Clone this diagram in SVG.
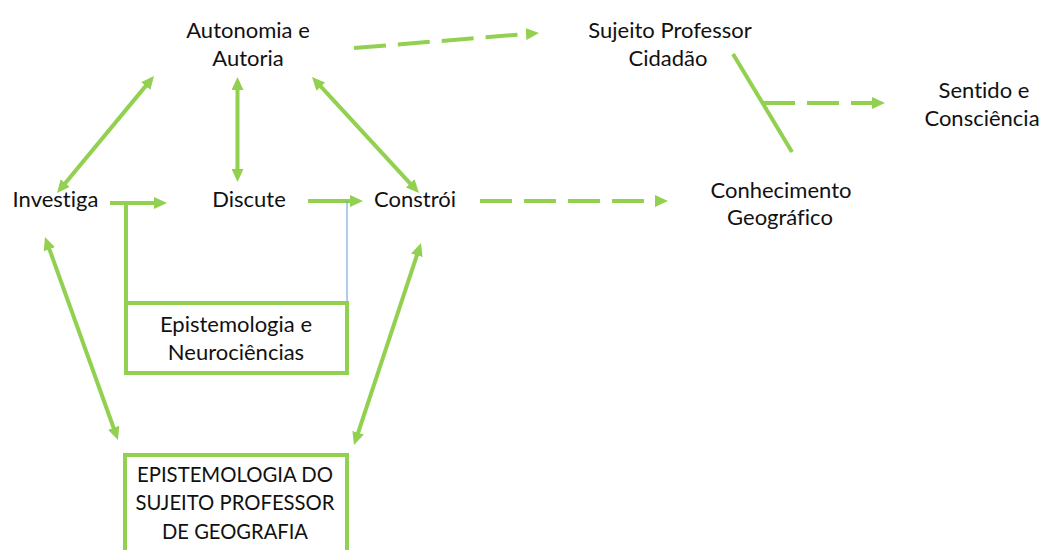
<svg xmlns="http://www.w3.org/2000/svg" width="1043" height="550" viewBox="0 0 1043 550">
<style>
text{font-family:Lato,"Liberation Sans",sans-serif;font-size:22px;fill:#111;text-anchor:middle;font-variant-ligatures:none;font-feature-settings:"liga" 0}
.c{stroke:#92D050;stroke-width:4;fill:none}
.d{stroke-dasharray:32 12}
.bx{stroke:#92D050;stroke-width:4;fill:#fff}
</style>
<defs>
<marker id="ah" markerUnits="userSpaceOnUse" markerWidth="13" markerHeight="12" refX="8" refY="6" orient="auto-start-reverse" viewBox="0 0 13 12">
<path d="M0,0 L13,6 L0,12 z" fill="#92D050"/>
</marker>
</defs>
<rect width="1043" height="550" fill="#fff"/>
<g id="connectors">
<line class="c" x1="60.2" y1="189.2" x2="150.8" y2="79.9" marker-start="url(#ah)" marker-end="url(#ah)"/>
<line class="c" x1="237.5" y1="82" x2="237.5" y2="177" marker-start="url(#ah)" marker-end="url(#ah)"/>
<line class="c" x1="315.4" y1="80.7" x2="415.6" y2="189.3" marker-start="url(#ah)" marker-end="url(#ah)"/>
<line class="c" x1="46.7" y1="241.7" x2="116.3" y2="435.3" marker-start="url(#ah)" marker-end="url(#ah)"/>
<line class="c" x1="419.4" y1="247.7" x2="355.6" y2="440.3" marker-start="url(#ah)" marker-end="url(#ah)"/>
<line class="c" x1="110" y1="203" x2="162" y2="203" marker-end="url(#ah)"/>
<line class="c" x1="126" y1="203" x2="126" y2="303"/>
<line class="c" x1="308" y1="201" x2="358" y2="201" marker-end="url(#ah)"/>
<line x1="347" y1="201" x2="347" y2="303" stroke="#5B9BD5" stroke-width="1"/>
<line class="c d" x1="480" y1="201" x2="663" y2="201" marker-end="url(#ah)"/>
<line class="c d" x1="354" y1="48" x2="534" y2="33.4" marker-end="url(#ah)"/>
<line class="c" x1="733" y1="54" x2="792" y2="152"/>
<line class="c d" x1="763" y1="103" x2="880" y2="103" marker-end="url(#ah)"/>
</g>
<g id="autonomia"><text x="248" y="38">Autonomia e</text><text x="248" y="66">Autoria</text></g>
<g id="investiga"><text x="55.5" y="207">Investiga</text></g>
<g id="discute"><text x="249" y="207">Discute</text></g>
<g id="constroi"><text x="415" y="207">Constrói</text></g>
<g id="sujeito"><text x="670" y="38">Sujeito Professor</text><text x="668" y="66">Cidadão</text></g>
<g id="sentido"><text x="984" y="98">Sentido e</text><text x="982" y="126">Consciência</text></g>
<g id="conhecimento"><text x="781" y="198">Conhecimento</text><text x="780" y="225">Geográfico</text></g>
<g id="epist-neuro"><rect class="bx" x="126" y="303" width="221" height="70"/><text x="236" y="332">Epistemologia e</text><text x="236" y="360">Neurociências</text></g>
<g id="epist-sujeito"><rect class="bx" x="125" y="455" width="222" height="110"/><text x="235" y="482" textLength="196" lengthAdjust="spacingAndGlyphs">EPISTEMOLOGIA DO</text><text x="235" y="510" textLength="199" lengthAdjust="spacingAndGlyphs">SUJEITO PROFESSOR</text><text x="235" y="539" textLength="146" lengthAdjust="spacingAndGlyphs">DE GEOGRAFIA</text></g>
</svg>
